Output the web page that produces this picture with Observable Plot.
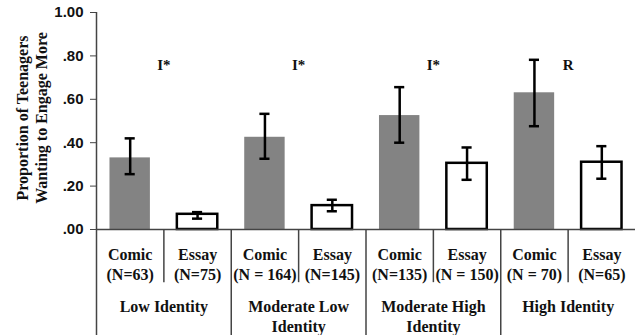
<!DOCTYPE html>
<html>
<head>
<meta charset="utf-8">
<script src="https://cdn.jsdelivr.net/npm/d3@7"></script>
<script src="https://cdn.jsdelivr.net/npm/@observablehq/plot@0.6"></script>
<style>
  html, body { margin: 0; padding: 0; background: #fff; }
</style>
</head>
<body>
<div id="chart"></div>
<script>
// ---- data ----
const groups = ["Low Identity", "Moderate Low\nIdentity", "Moderate High\nIdentity", "High Identity"];
const conditions = ["Comic", "Essay"];
const nLabels = ["(N=63)", "(N=75)", "(N = 164)", "(N=145)", "(N=135)", "(N = 150)", "(N = 70)", "(N=65)"];
const values = [0.33, 0.07, 0.425, 0.11, 0.525, 0.305, 0.63, 0.31];
const errLow = [0.255, 0.05, 0.326, 0.084, 0.40, 0.229, 0.476, 0.234];
const errHigh = [0.42, 0.08, 0.533, 0.137, 0.656, 0.378, 0.782, 0.384];
const annotations = ["I*", "I*", "I*", "R"];
const yTicks = [0, 0.2, 0.4, 0.6, 0.8, 1.0];
const annotationLevel = 0.755;

// ---- build table ----
const rows = values.map((v, i) => ({
  idx: i,
  group: groups[Math.floor(i / 2)],
  cond: conditions[i % 2],
  label: conditions[i % 2] + "\n" + nLabels[i],
  value: v,
  lo: errLow[i],
  hi: errHigh[i]
}));
const groupRows = groups.map((g, j) => ({ j, g, note: annotations[j] }));

const yMin = -0.4885; // extends frame under the axis for category labels
const serif = "Liberation Serif, Times New Roman, serif";
const capHalf = 0.075;

const chart = Plot.plot({
  width: 635,
  height: 335,
  marginLeft: 96,
  marginRight: 0,
  marginTop: 12,
  marginBottom: 0,
  style: { background: "#fff", overflow: "visible" },
  x: { type: "linear", domain: [0, 8], axis: null },
  y: { domain: [yMin, 1], axis: null },
  marks: [
    // bars
    Plot.rectY(rows.filter(d => d.cond === "Comic"), {
      x1: d => d.idx + 0.2, x2: d => d.idx + 0.8, y1: 0, y2: "value",
      fill: "#838383"
    }),
    Plot.rectY(rows.filter(d => d.cond === "Essay"), {
      x1: d => d.idx + 0.2, x2: d => d.idx + 0.8, y1: 0, y2: "value",
      fill: "#fff", stroke: "#000", strokeWidth: 2.5
    }),
    // error bars
    Plot.ruleX(rows, { x: d => d.idx + 0.5, y1: "lo", y2: "hi", stroke: "#000", strokeWidth: 2.5 }),
    Plot.ruleY(rows, { y: "hi", x1: d => d.idx + 0.5 - capHalf, x2: d => d.idx + 0.5 + capHalf, stroke: "#000", strokeWidth: 2.5 }),
    Plot.ruleY(rows, { y: "lo", x1: d => d.idx + 0.5 - capHalf, x2: d => d.idx + 0.5 + capHalf, stroke: "#000", strokeWidth: 2.5 }),
    // axes lines
    Plot.ruleY([0], { stroke: "#444", strokeWidth: 1.5 }),
    Plot.ruleX([0], { y1: 1, y2: yMin, stroke: "#444", strokeWidth: 1.5 }),
    // group dividers (full height below axis)
    Plot.ruleX([2, 4, 6], { x: d => d, y1: 0, y2: yMin, stroke: "#444", strokeWidth: 1.5 }),
    // dividers within groups
    Plot.ruleX(groupRows, { x: d => d.j * 2 + 1, y1: 0, y2: -0.245, stroke: "#444", strokeWidth: 1.5 }),
    // y axis ticks and labels
    Plot.axisY(yTicks, {
      tickSize: 6, tickPadding: 7, stroke: "#444",
      tickFormat: d => d === 1 ? "1.00" : d3.format(".2f")(d).replace(/^0/, ""),
      fontSize: 15, fontWeight: "bold", fontFamily: "Liberation Sans, Arial, sans-serif",
      fill: "#111", label: null
    }),
    // y axis title
    Plot.text(["Proportion of Teenagers\nWanting to Engage More"], {
      frameAnchor: "left", textAnchor: "middle", rotate: -90, dx: -65, dy: -56,
      text: d => d, fontSize: 16, fontWeight: "bold", fontFamily: serif,
      lineHeight: 1.2, fill: "#111"
    }),
    // category tick labels
    Plot.text(rows, {
      x: d => d.idx + 0.5, y: 0, dy: 34, text: "label", lineAnchor: "middle",
      lineHeight: 1.25, fontSize: 16, fontWeight: "bold", fontFamily: serif, fill: "#111"
    }),
    // group labels
    Plot.text(groupRows, {
      x: d => d.j * 2 + 1, y: 0, dy: 68, text: "g", lineAnchor: "top",
      lineHeight: 1.25, fontSize: 16, fontWeight: "bold", fontFamily: serif, fill: "#111"
    }),
    // significance annotations
    Plot.text(groupRows, {
      x: d => d.j * 2 + 1, y: annotationLevel, text: "note",
      fontSize: 15, fontWeight: "bold", fontFamily: serif, fill: "#111"
    })
  ]
});
document.getElementById("chart").appendChild(chart);
</script>
</body>
</html>
